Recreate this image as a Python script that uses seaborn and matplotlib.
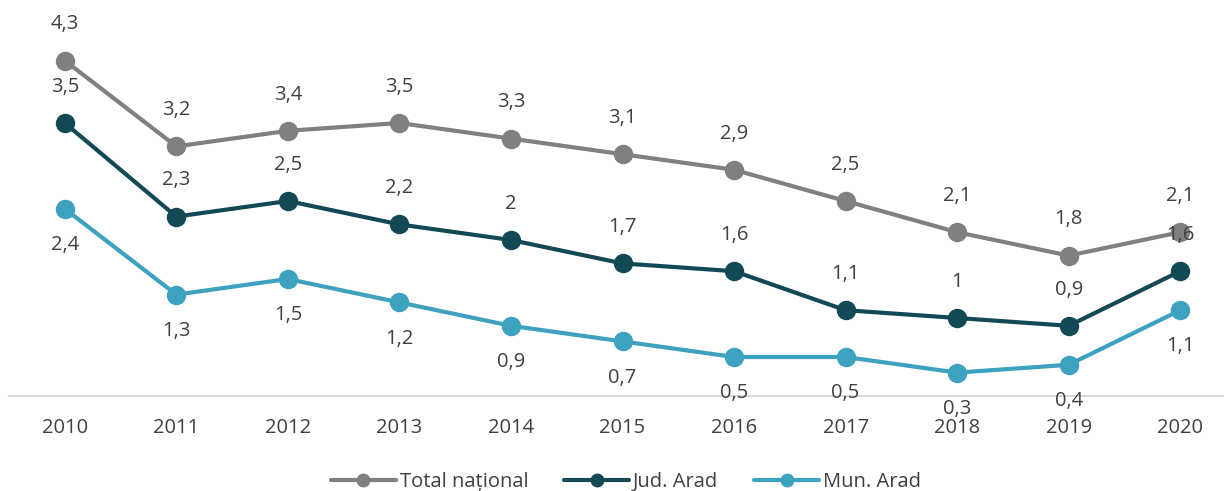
import matplotlib
matplotlib.use("Agg")
import matplotlib.pyplot as plt
from matplotlib.lines import Line2D
import seaborn as sns
import pandas as pd

years = ["2010", "2011", "2012", "2013", "2014", "2015", "2016", "2017", "2018", "2019", "2020"]
total_national = [4.3, 3.2, 3.4, 3.5, 3.3, 3.1, 2.9, 2.5, 2.1, 1.8, 2.1]
jud_arad = [3.5, 2.3, 2.5, 2.2, 2.0, 1.7, 1.6, 1.1, 1.0, 0.9, 1.6]
mun_arad = [2.4, 1.3, 1.5, 1.2, 0.9, 0.7, 0.5, 0.5, 0.3, 0.4, 1.1]
series_names = ["Total național", "Jud. Arad", "Mun. Arad"]
colors = ["#808080", "#124954", "#3ca2bf"]

sns.set_style("white")
plt.rcParams["font.family"] = ["Open Sans", "DejaVu Sans"]

df = pd.DataFrame({
    "year": years * 3,
    "x": list(range(len(years))) * 3,
    "value": total_national + jud_arad + mun_arad,
    "series": [series_names[0]] * 11 + [series_names[1]] * 11 + [series_names[2]] * 11,
})

fig = plt.figure(figsize=(12.24, 4.91), dpi=100)
ax = fig.add_axes([9 / 1224, 95 / 491, 1227 / 1224, 390 / 491])

sns.lineplot(data=df, x="x", y="value", hue="series", palette=colors,
             hue_order=series_names, marker="o", markersize=14, linewidth=3,
             markeredgewidth=0, legend=False, ax=ax)

def fmt(v):
    s = f"{v:g}"
    return s.replace(".", ",")

label_color = "#404040"
fs = 14.5
offsets = {series_names[0]: 26, series_names[1]: 26, series_names[2]: -26}
for name, vals in zip(series_names, [total_national, jud_arad, mun_arad]):
    for i, v in enumerate(vals):
        dy = offsets[name]
        ax.annotate(fmt(v), (i, v), xytext=(0, dy), textcoords="offset points",
                    ha="center", va="center", fontsize=fs, color=label_color)

ax.set_xlim(-0.5, 10.5)
ax.set_ylim(0, 5)
ax.set_xticks(range(len(years)))
ax.set_xticklabels(years)
ax.set_yticks([])
ax.set_xlabel("")
ax.set_ylabel("")
for side in ["top", "left", "right"]:
    ax.spines[side].set_visible(False)
ax.spines["bottom"].set_color("#d9d9d9")
ax.spines["bottom"].set_linewidth(1.5)
ax.tick_params(axis="x", length=0, pad=16, labelsize=fs, labelcolor=label_color)

handles = [Line2D([0], [0], color=c, lw=3, marker="o", markersize=10, markeredgewidth=0)
           for c in colors]
fig.legend(handles, series_names, loc="center", bbox_to_anchor=(626 / 1224, 9 / 491),
           ncol=3, frameon=False, fontsize=fs, handlelength=3.2, columnspacing=1.8,
           handletextpad=0.2, labelcolor=label_color)

fig.savefig("out.png", dpi=100)
